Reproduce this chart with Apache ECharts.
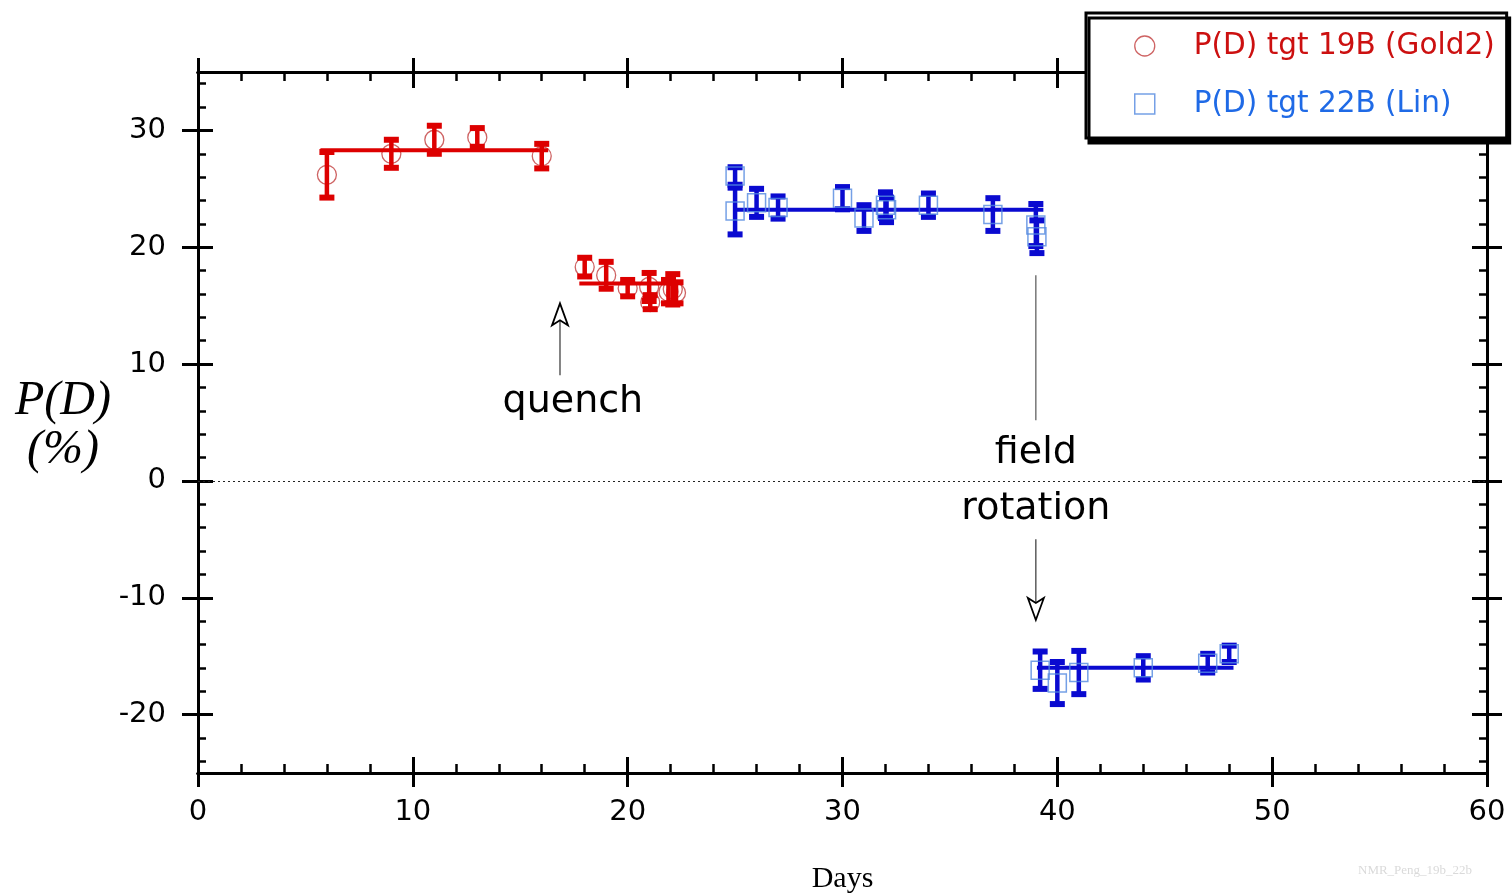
<!DOCTYPE html>
<html>
<head>
<meta charset="utf-8">
<title>P(D) vs Days</title>
<script src="https://cdn.jsdelivr.net/npm/echarts@6/dist/echarts.min.js"></script>
<style>
  html, body { margin: 0; padding: 0; background: #fff; overflow: hidden; }
  #chart { width: 1512px; height: 895px; }
</style>
</head>
<body>
<div id="chart"></div>
<script>
// Target 19B (Gold2): day, polarization (%), error (%)
const redDays = [6, 9, 11, 13, 16, 18, 19, 20, 21, 21.05, 21.9, 22.1, 22.25];
const redPD   = [26.2, 28.0, 29.2, 29.4, 27.8, 18.3, 17.6, 16.5, 16.6, 15.3, 16.2, 16.4, 16.1];
const redErr  = [1.95, 1.2, 1.2, 0.8, 1.05, 0.8, 1.15, 0.7, 1.2, 0.6, 1.0, 1.3, 0.9];

// Target 22B (Lin)
const blueDays = [25, 25, 26, 27, 30, 31, 32, 32.05, 34, 37, 39, 39.05, 39.2, 40, 41, 44, 47, 48];
const bluePD   = [26.1, 23.1, 23.8, 23.4, 24.2, 22.5, 23.6, 23.2, 23.6, 22.8, 21.9, 20.9, -16.2, -17.3, -16.4, -16.0, -15.6, -14.8];
const blueErr  = [0.75, 2.0, 1.2, 0.95, 0.95, 1.1, 1.1, 1.05, 1.0, 1.4, 1.8, 1.4, 1.6, 1.8, 1.85, 1.0, 0.8, 0.7];

// Average levels: [startDay, endDay, value]
const redFits  = [[5.7, 16.3, 28.3], [17.75, 22.2, 16.9]];
const blueFits = [[25.0, 39.35, 23.2], [39.05, 48.2, -16.0]];

// Axis ranges and tick positions
const xRange = { min: 0, max: 60, interval: 10 };
const yRange = { min: -25, max: 35, interval: 5 };
const xMajorTicks = [0, 10, 20, 30, 40, 50, 60];
const xMinorTicks = [2, 4, 6, 8, 12, 14, 16, 18, 22, 24, 26, 28, 32, 34, 36, 38, 42, 44, 46, 48, 52, 54, 56, 58];
const yMajorTicks = [-20, -10, 0, 10, 20, 30];
const yMinorTicks = [-24, -22, -18, -16, -14, -12, -8, -6, -4, -2, 2, 4, 6, 8, 12, 14, 16, 18, 22, 24, 26, 28, 32, 34];

const redName = 'P(D) tgt 19B (Gold2)';
const blueName = 'P(D) tgt 22B (Lin)';

const RED_BAR = '#dd0000';
const RED_MARK = '#c23c3c';
const BLUE_BAR = '#0a0ad0';
const BLUE_MARK = '#5288e0';
const LABEL_FONT = '"DejaVu Sans", sans-serif';
const SERIF = '"Liberation Serif", "Times New Roman", serif';

const chart = echarts.init(document.getElementById('chart'), null, { renderer: 'canvas', width: 1512, height: 895 });

function zip3(a, b, c) { return a.map((v, i) => [v, b[i], c[i]]); }

function errorBar(color) {
  return function (params, api) {
    const x = api.value(0), y = api.value(1), e = api.value(2);
    const top = api.coord([x, y + e]);
    const bot = api.coord([x, y - e]);
    const hw = 7.5;
    return {
      type: 'group',
      children: [
        { type: 'line', shape: { x1: top[0], y1: top[1], x2: bot[0], y2: bot[1] }, style: { stroke: color, lineWidth: 4.5 } },
        { type: 'rect', shape: { x: top[0] - hw, y: top[1] - 3, width: hw * 2, height: 6 }, style: { fill: color } },
        { type: 'rect', shape: { x: bot[0] - hw, y: bot[1] - 3, width: hw * 2, height: 6 }, style: { fill: color } }
      ]
    };
  };
}

function fitSeries(fits, color) {
  return fits.map(f => ({
    type: 'line',
    data: [[f[0], f[2]], [f[1], f[2]]],
    symbol: 'none',
    lineStyle: { color: color, width: 4 },
    silent: true,
    z: 3
  }));
}

const axisLineStyle = { show: true, onZero: false, lineStyle: { color: '#000', width: 3 } };
const tickStyle = { color: '#000', width: 3 };
const minorStyle = { color: '#000', width: 2.5 };

// Each side gets three overlapping axes: outward major ticks (with labels on
// the bottom/left side), inward major ticks and inward minor ticks.
function makeAxes(range, positions, label, major, minor, minorLen, outLen, inLen) {
  const base = Object.assign({ type: 'value', splitLine: { show: false }, axisLine: axisLineStyle }, range);
  const axes = [];
  positions.forEach((pos, k) => {
    axes.push(Object.assign({}, base, {
      position: pos,
      axisTick: { show: true, inside: false, length: outLen[k], lineStyle: tickStyle, customValues: major },
      axisLabel: k === 0 ? Object.assign({ customValues: major }, label) : { show: false }
    }));
    axes.push(Object.assign({}, base, {
      position: pos,
      axisTick: { show: true, inside: true, length: inLen[k], lineStyle: tickStyle, customValues: major },
      axisLabel: { show: false }
    }));
    axes.push(Object.assign({}, base, {
      position: pos,
      axisTick: { show: true, inside: true, length: minorLen, lineStyle: minorStyle, customValues: minor },
      axisLabel: { show: false }
    }));
  });
  return axes;
}

const xAxes = makeAxes(xRange, ['bottom', 'top'], {
  show: true, margin: 25, color: '#000', fontSize: 29, fontFamily: LABEL_FONT
}, xMajorTicks, xMinorTicks, 9, [14, 14], [16, 16]);
xAxes[0].name = 'Days';
xAxes[0].nameLocation = 'middle';
xAxes[0].nameGap = 91;
xAxes[0].nameTextStyle = { fontFamily: SERIF, fontSize: 30, color: '#000' };

const yAxes = makeAxes(yRange, ['left', 'right'], {
  show: true, margin: 32, color: '#000', fontSize: 29, fontFamily: LABEL_FONT
}, yMajorTicks, yMinorTicks, 8, [16, 15], [15, 15]);

const option = {
  animation: false,
  backgroundColor: '#fff',
  grid: { left: 198, top: 72, width: 1289, height: 701, containLabel: false, outerBoundsMode: 'none' },
  xAxis: xAxes,
  yAxis: yAxes,
  legend: {
    orient: 'vertical',
    left: 1086,
    top: 13,
    backgroundColor: '#fff',
    borderColor: '#000',
    borderWidth: 3,
    borderRadius: 0,
    padding: [18, 12, 19, 48],
    itemGap: 28,
    itemWidth: 20,
    itemHeight: 20,
    shadowColor: '#000',
    shadowBlur: 0,
    shadowOffsetX: 3,
    shadowOffsetY: 5,
    textStyle: { fontSize: 29.5, fontFamily: LABEL_FONT, padding: [0, 0, 0, 34] },
    data: [
      { name: redName, textStyle: { color: '#cc1010' }, itemStyle: { color: 'transparent', borderColor: RED_MARK, borderWidth: 1.3 } },
      { name: blueName, textStyle: { color: '#1f6ae6' }, itemStyle: { color: 'transparent', borderColor: BLUE_MARK, borderWidth: 1.5 } }
    ]
  },
  series: [
    {
      name: redName,
      type: 'scatter',
      data: redDays.map((d, i) => [d, redPD[i]]),
      symbol: 'circle',
      symbolSize: 19,
      itemStyle: { color: 'transparent', borderColor: RED_MARK, borderWidth: 1.3 },
      z: 2,
      markLine: {
        silent: true,
        symbol: 'none',
        label: { show: false },
        lineStyle: { color: '#222', type: [2, 3], width: 1 },
        data: [{ yAxis: 0 }]
      }
    },
    {
      type: 'custom',
      data: zip3(redDays, redPD, redErr),
      renderItem: errorBar(RED_BAR),
      encode: { x: 0, y: 1 },
      z: 4
    },
    ...fitSeries(redFits, RED_BAR),
    {
      type: 'custom',
      data: zip3(blueDays, bluePD, blueErr),
      renderItem: errorBar(BLUE_BAR),
      encode: { x: 0, y: 1 },
      z: 4
    },
    ...fitSeries(blueFits, BLUE_BAR),
    {
      name: blueName,
      type: 'scatter',
      data: blueDays.map((d, i) => [d, bluePD[i]]),
      symbol: 'rect',
      symbolSize: 18,
      itemStyle: { color: 'transparent', borderColor: BLUE_MARK, borderWidth: 1.5 },
      z: 5
    }
  ]
};

chart.setOption(option);

// Annotations placed in data coordinates
const annotations = {
  quench: { text: 'quench', at: [17.45, 6.75] },
  quenchArrow: { x: 16.85, from: 9.05, to: 15.2 },
  field: { text: 'field', at: [39.0, 2.4] },
  rotation: { text: 'rotation', at: [39.0, -2.45] },
  fieldLine: { x: 39.0, from: 17.6, to: 5.2 },
  fieldArrow: { x: 39.0, from: -5.0, to: -11.9 }
};

function px(p) { return chart.convertToPixel({ xAxisIndex: 0, yAxisIndex: 0 }, p); }

function arrow(x, y0, y1) {
  const a = px([x, y0]), b = px([x, y1]);
  const dir = b[1] < a[1] ? 1 : -1;     // +1 when the arrow points up
  const headLen = 22, hw = 8, notch = 5;
  const baseY = b[1] + dir * headLen;
  return [
    { type: 'line', shape: { x1: a[0], y1: a[1], x2: a[0], y2: baseY - dir * notch }, style: { stroke: '#333', lineWidth: 1.2 } },
    {
      type: 'polygon',
      shape: { points: [[b[0], b[1]], [b[0] - hw, baseY], [b[0], baseY - dir * notch], [b[0] + hw, baseY]] },
      style: { fill: '#fff', stroke: '#000', lineWidth: 1.8 }
    }
  ];
}

function label(a) {
  const p = px(a.at);
  return {
    type: 'text', x: p[0], y: p[1],
    style: { text: a.text, fontSize: 38, fontFamily: LABEL_FONT, fill: '#000', align: 'center', verticalAlign: 'middle' }
  };
}

const fl = annotations.fieldLine;
const fla = px([fl.x, fl.from]), flb = px([fl.x, fl.to]);

chart.setOption({
  graphic: [
    label(annotations.quench),
    ...arrow(annotations.quenchArrow.x, annotations.quenchArrow.from, annotations.quenchArrow.to),
    label(annotations.field),
    label(annotations.rotation),
    { type: 'line', shape: { x1: fla[0], y1: fla[1], x2: flb[0], y2: flb[1] }, style: { stroke: '#555', lineWidth: 1.2 } },
    ...arrow(annotations.fieldArrow.x, annotations.fieldArrow.from, annotations.fieldArrow.to),
    {
      type: 'text', x: 63, y: 401,
      style: { text: 'P(D)', fontSize: 48, fontStyle: 'italic', fontFamily: SERIF, fill: '#000', align: 'center', verticalAlign: 'middle' }
    },
    {
      type: 'text', x: 63, y: 450,
      style: { text: '(%)', fontSize: 48, fontStyle: 'italic', fontFamily: SERIF, fill: '#000', align: 'center', verticalAlign: 'middle' }
    },
    {
      type: 'text', left: 1358, top: 864,
      style: { text: 'NMR_Peng_19b_22b', fontSize: 13, fontFamily: SERIF, fill: '#dadada' }
    }
  ]
});
</script>
</body>
</html>
